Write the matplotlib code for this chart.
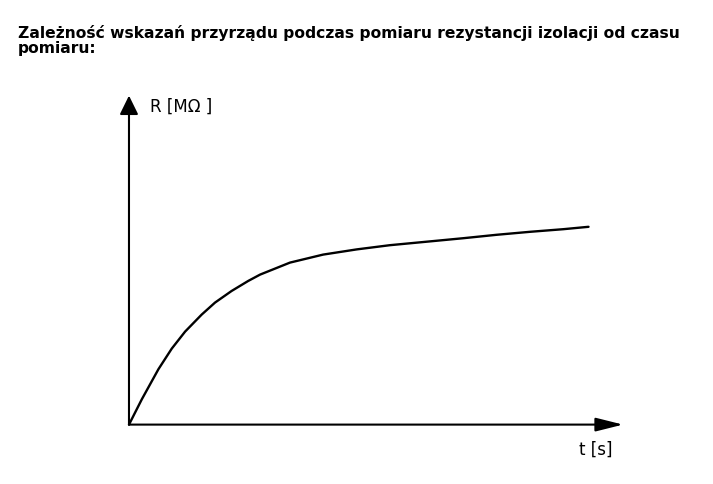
import matplotlib
matplotlib.use('Agg')
import matplotlib.pyplot as plt
import numpy as np

# readings of the curve (t in arbitrary seconds, R in arbitrary MOhm)
t_vals = [0.0, 0.28, 0.64, 0.93, 1.22, 1.58, 1.87, 2.23, 2.59, 2.85, 3.5,
          4.22, 4.95, 5.67, 6.54, 7.27, 7.99, 8.72, 9.44, 9.99]
r_vals = [0.0, 1.27, 2.77, 3.8, 4.65, 5.5, 6.1, 6.68, 7.18, 7.5, 8.1,
          8.5, 8.76, 8.97, 9.16, 9.32, 9.49, 9.64, 9.77, 9.89]

title = ('Zależność wskazań przyrządu podczas pomiaru rezystancji izolacji od czasu\n'
         'pomiaru:')
y_label = 'R [MΩ ]'
x_label = 't [s]'

# axis arrow ends (in data units)
t_end = 10.74
r_end = 16.45

dpi = 100
fig = plt.figure(figsize=(7.13, 4.85), dpi=dpi)
ax = fig.add_axes([0, 0, 1, 1])
ax.set_xlim(-2.804, 12.696)
ax.set_ylim(-2.97, 21.28)
ax.axis('off')

# axes with arrows
ax.annotate('', xy=(0, r_end), xytext=(0, 0),
            arrowprops=dict(arrowstyle='-|>,head_length=0.55,head_width=0.27',
                            mutation_scale=21, lw=1.5, color='black',
                            shrinkA=0, shrinkB=0))
ax.annotate('', xy=(t_end, 0), xytext=(0, 0),
            arrowprops=dict(arrowstyle='-|>,head_length=0.8,head_width=0.2',
                            mutation_scale=21, lw=1.5, color='black',
                            shrinkA=0, shrinkB=0))

ax.plot(t_vals, r_vals, color='black', lw=1.7, solid_capstyle='round',
        solid_joinstyle='round')

ax.text(0.46, 15.95, y_label, ha='left', va='center', fontsize=12,
        family='DejaVu Sans')
ax.text(10.15, -1.2, x_label, ha='center', va='center', fontsize=12,
        family='DejaVu Sans')

fig.text(18/713, 1 - 25/485, title, ha='left', va='top', fontsize=11.2,
         fontweight='bold', family='DejaVu Sans', linespacing=1.0)

plt.savefig('out.png', dpi=dpi)
